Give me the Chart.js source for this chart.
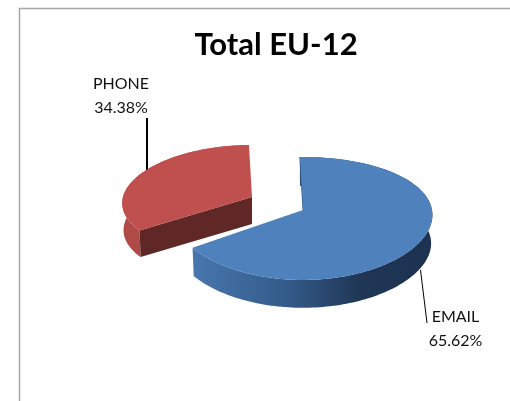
<!DOCTYPE html>
<html><head><meta charset="utf-8">
<script src="https://cdn.jsdelivr.net/npm/chart.js@4"></script>
<style>html,body{margin:0;padding:0;background:#fff}#w{width:510px;height:401px}canvas{display:block}</style>
</head><body><div id="w"><canvas id="c" width="510" height="401"></canvas></div>
<script>
const categories = ["EMAIL", "PHONE"];
const shares = [65.62, 34.38];
const sliceColors = ["#4f81bd", "#c0504d"];
const chartTitle = "Total EU-12";

const geom = {cx:303, cy:210, bottomScale:0.99};
const sliceGeom = [
  {x:0, y:0, rx:129, ry:60.3, kx:0.08, ky:0.138, depth:28.5},
  {x:-51, y:-13, rx:129, ry:55.6, kx:0.11, ky:0.07, depth:27}
];
const labelPos = [
  {x:455.5, y1:322, y2:346, line:[[420.5,270],[427,323]], w:1},
  {x:121, y1:89, y2:113, line:[[147,118],[147,172]], w:2}
];

function project(t, o, s, dz){
  const px=Math.sin(t), py=-Math.cos(t), g=geom;
  return [g.cx+o.x+s*o.rx*px/(1-o.kx*py), g.cy+o.y+s*o.ry*py/(1-o.ky*py)+dz];
}
function rim(a,b,o,s,dz){
  const n=Math.max(8,Math.ceil(Math.abs(b-a)*40)), pts=[];
  for(let i=0;i<=n;i++) pts.push(project(a+(b-a)*i/n,o,s,dz));
  return pts;
}
function poly(ctx,pts,fill){
  ctx.beginPath();
  pts.forEach((p,i)=>i?ctx.lineTo(p[0],p[1]):ctx.moveTo(p[0],p[1]));
  ctx.closePath(); ctx.fillStyle=fill; ctx.fill();
}
const pie3d = {
  id:'pie3d',
  beforeDraw(chart){
    const ctx=chart.ctx; ctx.save();
    ctx.strokeStyle='#a6a6a6'; ctx.lineWidth=1.5;
    ctx.beginPath(); ctx.moveTo(19.5,401); ctx.lineTo(19.5,8.5); ctx.lineTo(510,8.5); ctx.stroke();
    ctx.restore();
  },
  beforeDatasetsDraw(chart){
    const ctx=chart.ctx, arcs=chart.getDatasetMeta(0).data, g=geom;
    ctx.save();
    labelPos.forEach(l=>{
      ctx.strokeStyle='#000'; ctx.lineWidth=l.w;
      ctx.beginPath(); ctx.moveTo(l.line[0][0],l.line[0][1]); ctx.lineTo(l.line[1][0],l.line[1][1]); ctx.stroke();
    });
    arcs.forEach((arc,i)=>{
      const a=arc.startAngle+Math.PI/2, b=arc.endAngle+Math.PI/2, o=sliceGeom[i];
      const top=rim(a,b,o,1,0), bot=rim(a,b,o,g.bottomScale,o.depth);
      const apex=[g.cx+o.x,g.cy+o.y], apexB=[apex[0],apex[1]+o.depth];
      let wall;
      if(i===0){
        wall=ctx.createLinearGradient(193,0,433,0);
        wall.addColorStop(0,'#4877ae'); wall.addColorStop(0.4,'#335a88');
        wall.addColorStop(0.7,'#1f3654'); wall.addColorStop(1,'#1c3250');
      } else wall='#b04a47';
      poly(ctx,top.concat(bot.slice().reverse()),wall);
      if(i===0){
        ctx.strokeStyle='#2b4a70'; ctx.lineWidth=1.5;
        ctx.beginPath(); ctx.moveTo(top[0][0]+0.3,top[0][1]); ctx.lineTo(apex[0]+0.3,apex[1]); ctx.stroke();
      } else {
        const p=project(a,o,1,0), q=project(a,o,g.bottomScale,o.depth);
        poly(ctx,[apex,p,q,apexB],'#5f2726');
      }
      poly(ctx,[apex].concat(top),arc.options.backgroundColor);
    });
    ctx.restore();
    return false;
  },
  afterDraw(chart){
    const ctx=chart.ctx; ctx.save();
    ctx.font='16px Lato'; ctx.fillStyle='#111'; ctx.textAlign='center'; ctx.textBaseline='alphabetic';
    categories.forEach((c,i)=>{
      ctx.fillText(c,labelPos[i].x,labelPos[i].y1);
      ctx.fillText(shares[i].toFixed(2)+'%',labelPos[i].x,labelPos[i].y2);
    });
    ctx.restore();
  }
};
new Chart(document.getElementById('c'),{
  type:'pie',
  data:{labels:categories,datasets:[{data:shares,backgroundColor:sliceColors,borderWidth:0}]},
  options:{
    responsive:false,animation:false,rotation:-1.5,
    layout:{padding:{left:42}},
    plugins:{
      legend:{display:false},tooltip:{enabled:false},
      title:{display:true,text:chartTitle,color:'#000',font:{family:'Lato',size:31,weight:'bold'},padding:{top:26,bottom:4}}
    }
  },
  plugins:[pie3d]
});
</script></body></html>
